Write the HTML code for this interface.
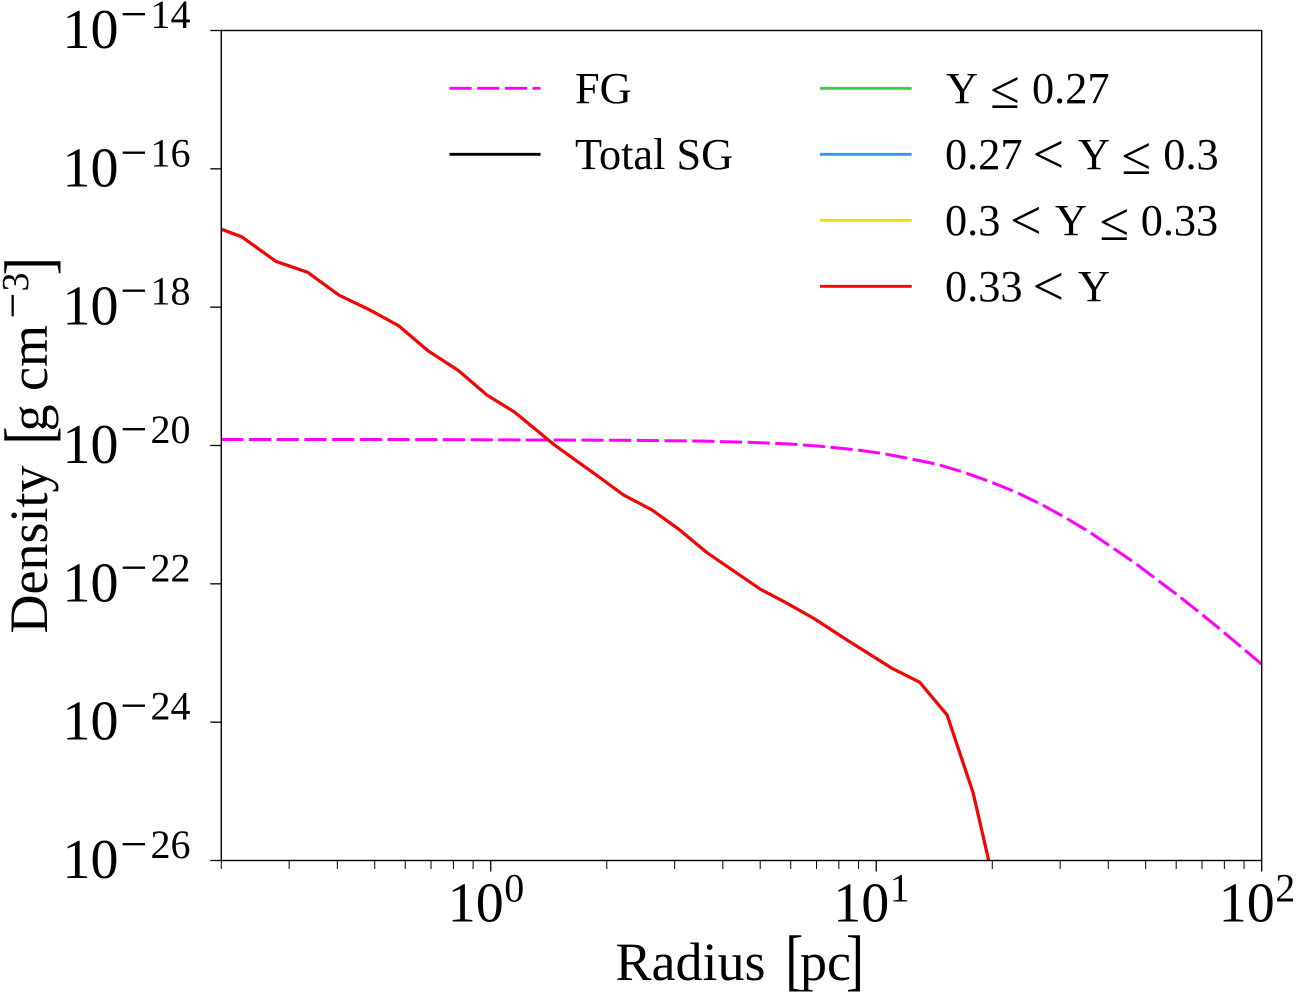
<!DOCTYPE html>
<html lang="en">
<head>
<meta charset="utf-8">
<title>Density vs Radius</title>
<style>
html,body{margin:0;padding:0;background:#fff;}
svg{display:block;}
text{font-family:"Liberation Serif","DejaVu Serif",serif;fill:#000;}
</style>
</head>
<body>
<svg id="chart" xmlns="http://www.w3.org/2000/svg" width="1300" height="1000" viewBox="0 0 1300 1000">
  <defs><clipPath id="plot-clip"><rect x="221.3" y="30.5" width="1040.4" height="830"/></clipPath></defs>
  <rect x="0" y="0" width="1300" height="1000" fill="#fff"/>
  <g id="series" clip-path="url(#plot-clip)"></g>
  <rect x="221.3" y="30.5" width="1040.4" height="830" fill="none" stroke="#000" stroke-width="1.4"/>
  <g id="ticks"></g>

  <g>
    <text x="615.5" y="980" font-size="54">Radius</text>
    <text transform="translate(785.3,982.5) scale(1,1.25)" x="0" y="0" font-size="54">[</text>
    <text x="800" y="980" font-size="54">pc</text>
    <text transform="translate(846,982.5) scale(1,1.25)" x="0" y="0" font-size="54">]</text>
  </g>
  <g transform="translate(47,633.5) rotate(-90)">
    <text x="0" y="0" font-size="54">Density</text>
    <text transform="translate(189,4.5) scale(1,1.25)" x="0" y="0" font-size="54">[</text>
    <text x="202" y="0" font-size="54">g</text>
    <text x="242.5" y="0" font-size="54">cm</text>
    <text x="315" y="-19" font-size="46">−</text>
    <text x="342" y="-19" font-size="38">3</text>
    <text transform="translate(358.3,4.5) scale(1,1.25)" x="0" y="0" font-size="54">]</text>
  </g>

  <g>
    <line x1="449.5" x2="540.5" y1="88.3" y2="88.3" stroke="#ff00ff" stroke-width="2.9" stroke-dasharray="22.2 5.5"/>
    <text x="575" y="103" font-size="44.3">FG</text>
    <line x1="449.5" x2="540.5" y1="154.3" y2="154.3" stroke="#000" stroke-width="2.9"/>
    <text x="575" y="169" font-size="44.3">Total SG</text>

    <line x1="820" x2="911.7" y1="88.3" y2="88.3" stroke="#3bce3b" stroke-width="2.9"/>
    <text font-size="44.3"><tspan x="946" y="103">Y</tspan><tspan x="990" y="108" font-size="54">≤</tspan><tspan x="1032" y="103">0.27</tspan></text>

    <line x1="820" x2="911.7" y1="154.3" y2="154.3" stroke="#2f97ff" stroke-width="2.9"/>
    <text font-size="44.3"><tspan x="945" y="169">0.27</tspan><tspan x="1032.5" y="173" font-size="56">&lt;</tspan><tspan x="1078" y="169">Y</tspan><tspan x="1121.4" y="174" font-size="54">≤</tspan><tspan x="1163.3" y="169">0.3</tspan></text>

    <line x1="820" x2="911.7" y1="220.3" y2="220.3" stroke="#ffd700" stroke-width="2.9"/>
    <text font-size="44.3"><tspan x="945" y="235">0.3</tspan><tspan x="1010" y="239" font-size="56">&lt;</tspan><tspan x="1055" y="235">Y</tspan><tspan x="1099.4" y="240" font-size="54">≤</tspan><tspan x="1140.7" y="235">0.33</tspan></text>

    <line x1="820" x2="911.7" y1="286.3" y2="286.3" stroke="#ff0000" stroke-width="2.9"/>
    <text font-size="44.3"><tspan x="945" y="301">0.33</tspan><tspan x="1032.5" y="305" font-size="56">&lt;</tspan><tspan x="1078" y="301">Y</tspan></text>
  </g>
</svg>
<script>
// Chart data
const fgRadius = [0.2, 0.582, 1.343, 2.167, 3.495, 4.71, 5.99, 7.16, 8.74, 10.35, 12.14, 14.38, 16.86, 19.78, 22.96, 26.67, 30.96, 35.6, 40.9, 47.0, 53.6, 60.9, 69.4, 79.0, 89.8, 100];
const fgDensity = [1.22e-20, 1.22e-20, 1.20e-20, 1.19e-20, 1.16e-20, 1.11e-20, 1.05e-20, 9.77e-21, 8.73e-21, 7.7e-21, 6.5e-21, 5.35e-21, 4.1e-21, 3.0e-21, 2.13e-21, 1.43e-21, 9.06e-22, 5.68e-22, 3.37e-22, 1.98e-22, 1.14e-22, 6.68e-23, 3.75e-23, 2.08e-23, 1.14e-23, 6.87e-24];
const sgRadius = [0.2, 0.226, 0.277, 0.335, 0.404, 0.486, 0.578, 0.689, 0.825, 0.977, 1.152, 1.463, 1.889, 2.21, 2.62, 3.07, 3.64, 5.0, 5.81, 6.88, 8.4, 10.99, 12.96, 15.27, 17.84, 19.58, 21.0];
const totalSgDensity = [1.34e-17, 1.04e-17, 4.6e-18, 3.19e-18, 1.49e-18, 9.1e-19, 5.35e-19, 2.32e-19, 1.21e-19, 5.37e-20, 3.05e-20, 1.02e-20, 3.66e-21, 1.93e-21, 1.17e-21, 6.2e-22, 2.82e-22, 8.4e-23, 5.4e-23, 3.18e-23, 1.54e-23, 6.0e-24, 3.78e-24, 1.27e-24, 9.5e-26, 1.0e-26, 1.86e-27];
const highYDensity = [1.34e-17, 1.04e-17, 4.6e-18, 3.19e-18, 1.49e-18, 9.1e-19, 5.35e-19, 2.32e-19, 1.21e-19, 5.37e-20, 3.05e-20, 1.02e-20, 3.66e-21, 1.93e-21, 1.17e-21, 6.2e-22, 2.82e-22, 8.4e-23, 5.4e-23, 3.18e-23, 1.54e-23, 6.0e-24, 3.78e-24, 1.27e-24, 9.5e-26, 1.0e-26, 1.86e-27];
const xMajorExponents = [0, 1, 2];
const xMinorTicks = [0.2, 0.3, 0.4, 0.5, 0.6, 0.7, 0.8, 0.9, 2, 3, 4, 5, 6, 7, 8, 9, 20, 30, 40, 50, 60, 70, 80, 90];
const yMajorExponents = [-14, -16, -18, -20, -22, -24, -26];

// Axis functions
const plotLeft = 221.3, plotRight = 1261.7, plotTop = 30.5, plotBottom = 860.5;
const xMin = 0.2, xMax = 100, yMin = 1e-26, yMax = 1e-14;
function xScale(v) {
  return plotLeft + (Math.log10(v) - Math.log10(xMin)) / (Math.log10(xMax) - Math.log10(xMin)) * (plotRight - plotLeft);
}
function yScale(v) {
  return plotBottom - (Math.log10(v) - Math.log10(yMin)) / (Math.log10(yMax) - Math.log10(yMin)) * (plotBottom - plotTop);
}

const NS = 'http://www.w3.org/2000/svg';
const seriesGroup = document.getElementById('series');
const tickGroup = document.getElementById('ticks');

function linePath(xs, ys, color, dash) {
  const p = document.createElementNS(NS, 'path');
  p.setAttribute('d', xs.map((x, i) => (i ? 'L' : 'M') + xScale(x).toFixed(2) + ' ' + yScale(ys[i]).toFixed(2)).join(' '));
  p.setAttribute('fill', 'none');
  p.setAttribute('stroke', color);
  p.setAttribute('stroke-width', '3');
  p.setAttribute('stroke-linejoin', 'round');
  if (dash) p.setAttribute('stroke-dasharray', dash);
  seriesGroup.appendChild(p);
  return p;
}

const fgLine = linePath(fgRadius, fgDensity, '#ff00ff', '22.2 5.5');


const totalLine = linePath(sgRadius, totalSgDensity, '#000000');


const highYLine = linePath(sgRadius, highYDensity, '#ff0000');



function tickLine(x1, y1, x2, y2, width) {
  const l = document.createElementNS(NS, 'line');
  l.setAttribute('x1', x1);
  l.setAttribute('y1', y1);
  l.setAttribute('x2', x2);
  l.setAttribute('y2', y2);
  l.setAttribute('stroke', '#000');
  l.setAttribute('stroke-width', width);
  tickGroup.appendChild(l);
  return l;
}

function tspan(parent, str, x, y, size) {
  const t = document.createElementNS(NS, 'tspan');
  t.setAttribute('x', x);
  t.setAttribute('y', y);
  t.setAttribute('font-size', size);
  t.textContent = str;
  parent.appendChild(t);
}

xMinorTicks.forEach(function (v) {
  const m = tickLine(xScale(v), plotBottom, xScale(v), plotBottom + 8.5, 1);
  
  
});

xMajorExponents.forEach(function (e) {
  const px = xScale(Math.pow(10, e));
  const m = tickLine(px, plotBottom, px, plotBottom + 11, 1.3);
  
  
  const t = document.createElementNS(NS, 'text');
  
  
  tspan(t, '10', px - 43, 921.7, 56);
  tspan(t, String(e), px + 13.5, 901.7, 40);
  tickGroup.appendChild(t);
});

yMajorExponents.forEach(function (e) {
  const py = yScale(Math.pow(10, e));
  const m = tickLine(plotLeft - 11, py, plotLeft, py, 1.3);
  
  
  const t = document.createElementNS(NS, 'text');
  
  
  tspan(t, '10', 62.5, py + 17.5, 56);
  tspan(t, '\u2212', 120.2, py - 0.5, 48);
  tspan(t, String(Math.abs(e)), 150.5, py - 2.5, 40);
  tickGroup.appendChild(t);
});
</script>
</body>
</html>
